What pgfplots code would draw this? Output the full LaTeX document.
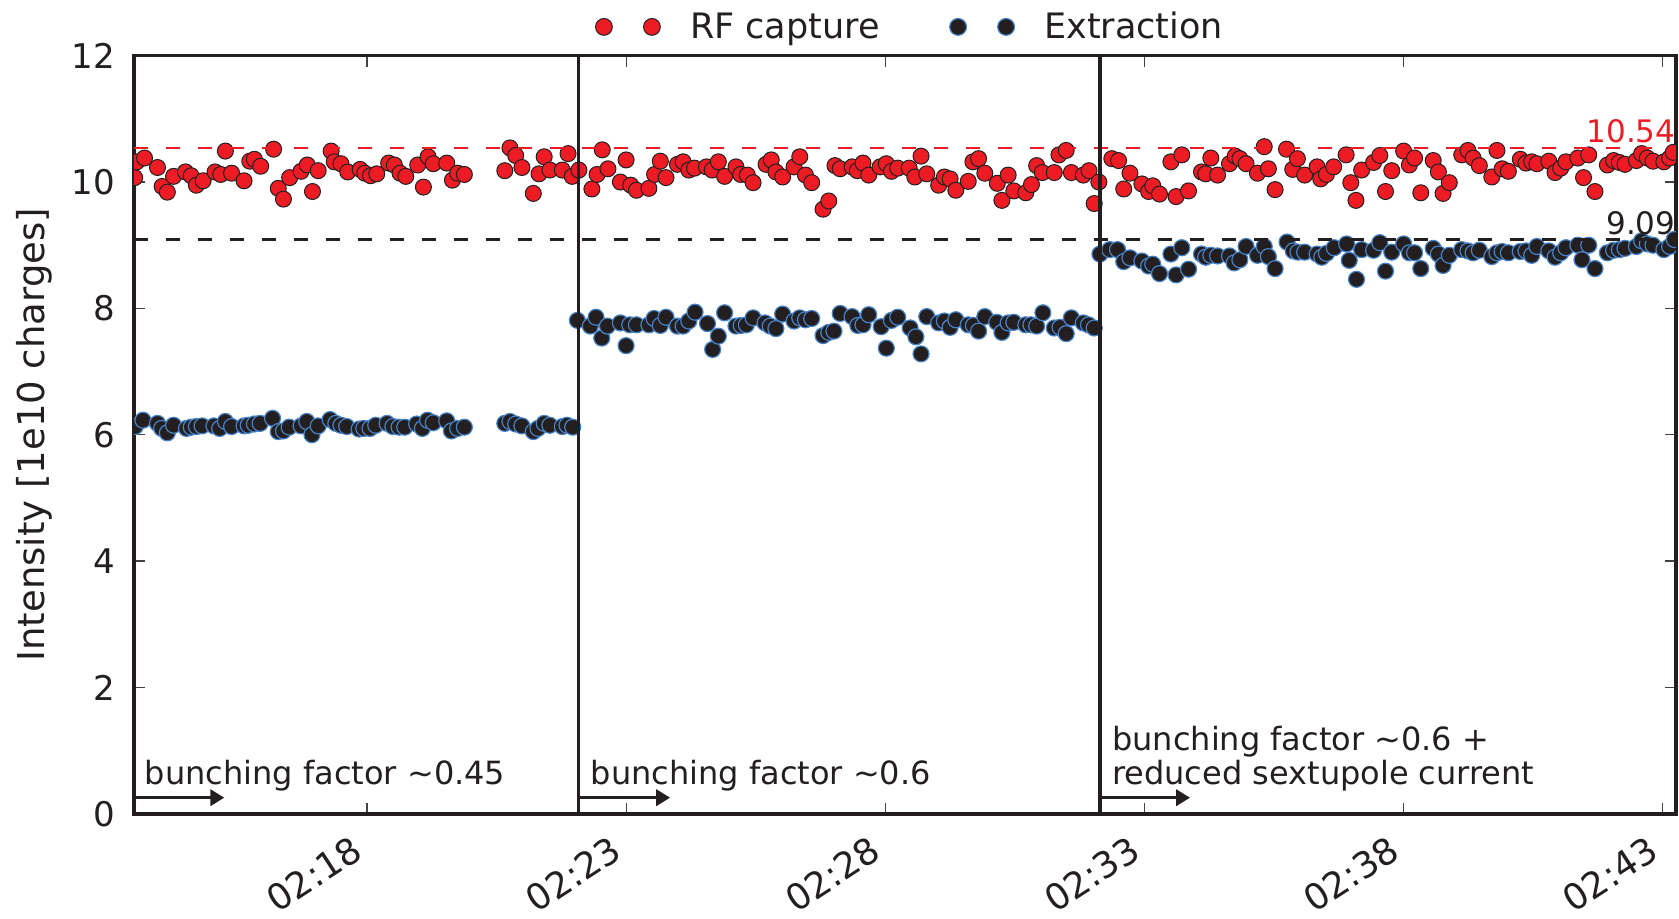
\documentclass[border=0pt]{standalone}
\usepackage{fontspec}
\setmainfont{DejaVu Sans}
\usepackage{pgfplots}
\pgfplotsset{compat=1.18}
\usetikzlibrary{arrows.meta,calc}
\definecolor{rfred}{RGB}{237,28,36}
\definecolor{dk}{RGB}{35,31,32}
\definecolor{edgeblue}{RGB}{70,130,200}
\begin{document}
\begin{tikzpicture}
\begin{axis}[
  name=ax,
  scale only axis, width=770.95pt, height=379.05pt,
  xmin=13.505, xmax=43.25, ymin=0, ymax=12,
  xtick={18,23,28,33,38,43},
  xticklabels={02:18,02:23,02:28,02:33,02:38,02:43},
  ytick={0,2,...,12},
  tick align=inside, xtick pos=both, ytick pos=both,
  major tick length=5.5pt,
  tick style={line width=0.6pt, color=dk!85},
  axis line style={line width=1.75pt, color=dk},
  /pgf/number format/assume math mode=true,
  ticklabel style={font=\fontsize{17}{20}\selectfont, color=dk},
  xticklabel style={font=\fontsize{18}{21}\selectfont, xshift=-7.3pt, yshift=-5.5pt, rotate=33, anchor=north east},
  yticklabel style={xshift=-6pt},
  ylabel={Intensity [1e10 charges]},
  ylabel style={font=\fontsize{18.5}{22}\selectfont, color=dk, at={(axis description cs:0,0.5)}, anchor=center, yshift=50pt},
  clip marker paths=true,
  legend columns=2,
  legend style={draw=none, fill=none, at={(0.5,1)}, anchor=center, yshift=14.4pt, xshift=3.2pt,
    font=\fontsize{17.5}{21}\selectfont, text=dk,
    /tikz/every even column/.append style={column sep=33pt},
    /tikz/every odd column/.append style={column sep=12.9pt}},
  legend image code/.code={\draw[#1, mark size=4.2pt] plot coordinates {(0pt,0pt) (24pt,0pt)};},
]
\addplot[only marks, mark=*, mark size=4pt, mark options={fill=rfred, draw=dk, line width=0.5pt}] table {
x y
13.52 10.07
13.56 10.32
13.71 10.38
13.96 10.23
14.05 9.93
14.15 9.84
14.27 10.09
14.50 10.16
14.61 10.10
14.71 9.95
14.84 10.02
15.07 10.16
15.18 10.12
15.27 10.49
15.39 10.14
15.63 10.02
15.74 10.33
15.83 10.36
15.95 10.25
16.20 10.52
16.29 9.90
16.39 9.73
16.51 10.07
16.73 10.17
16.85 10.27
16.95 9.85
17.06 10.18
17.31 10.49
17.37 10.32
17.50 10.29
17.63 10.16
17.87 10.20
17.96 10.14
18.07 10.10
18.19 10.13
18.42 10.30
18.53 10.27
18.64 10.14
18.75 10.09
18.98 10.27
19.09 9.92
19.18 10.40
19.28 10.29
19.54 10.30
19.65 10.03
19.75 10.14
19.88 10.12
20.66 10.18
20.76 10.54
20.87 10.42
20.99 10.23
21.21 9.82
21.32 10.13
21.42 10.40
21.53 10.19
21.77 10.19
21.88 10.45
21.96 10.09
22.09 10.19
22.34 9.89
22.44 10.12
22.54 10.51
22.65 10.21
22.89 10.00
23.00 10.35
23.09 9.95
23.20 9.87
23.44 9.90
23.55 10.12
23.66 10.33
23.77 10.07
23.99 10.28
24.10 10.32
24.21 10.19
24.32 10.22
24.55 10.24
24.66 10.19
24.78 10.32
24.90 10.09
25.12 10.24
25.21 10.12
25.34 10.11
25.45 9.99
25.70 10.28
25.80 10.35
25.89 10.16
26.02 10.08
26.24 10.24
26.35 10.40
26.46 10.11
26.58 9.99
26.80 9.57
26.91 9.70
27.03 10.26
27.13 10.21
27.36 10.24
27.46 10.18
27.57 10.30
27.68 10.11
27.90 10.24
28.02 10.29
28.12 10.17
28.24 10.22
28.46 10.22
28.57 10.08
28.69 10.41
28.80 10.13
29.03 9.95
29.14 10.08
29.25 10.05
29.36 9.87
29.60 10.01
29.69 10.32
29.80 10.37
29.92 10.14
30.16 9.98
30.25 9.71
30.37 10.11
30.48 9.86
30.71 9.83
30.82 9.96
30.92 10.26
31.03 10.15
31.26 10.15
31.35 10.43
31.49 10.50
31.59 10.15
31.82 10.11
31.93 10.18
32.03 9.66
32.12 10.00
32.37 10.37
32.50 10.34
32.60 9.89
32.72 10.14
32.95 9.97
33.08 9.85
33.16 9.94
33.29 9.81
33.51 10.32
33.61 9.77
33.72 10.43
33.85 9.86
34.10 10.16
34.18 10.13
34.28 10.38
34.41 10.11
34.64 10.29
34.75 10.41
34.84 10.37
34.96 10.29
35.18 10.14
35.31 10.56
35.39 10.21
35.52 9.88
35.74 10.52
35.86 10.20
35.95 10.37
36.09 10.11
36.33 10.24
36.40 10.05
36.51 10.12
36.65 10.24
36.89 10.43
36.98 9.99
37.08 9.71
37.19 10.19
37.42 10.31
37.54 10.42
37.65 9.85
37.77 10.18
38.00 10.49
38.11 10.27
38.21 10.38
38.33 9.83
38.57 10.34
38.67 10.16
38.76 9.82
38.88 9.99
39.12 10.43
39.24 10.50
39.34 10.38
39.46 10.26
39.70 10.08
39.80 10.50
39.90 10.21
40.02 10.17
40.25 10.36
40.36 10.30
40.47 10.32
40.57 10.29
40.80 10.33
40.92 10.15
41.03 10.22
41.13 10.32
41.36 10.38
41.47 10.07
41.57 10.43
41.69 9.85
41.93 10.27
42.05 10.34
42.16 10.31
42.27 10.28
42.49 10.34
42.59 10.45
42.70 10.38
42.81 10.33
43.02 10.32
43.13 10.38
43.20 10.47
};
\addlegendentry{RF capture}
\addplot[only marks, mark=*, mark size=4pt, mark options={fill=dk, draw=edgeblue, line width=0.6pt}] table {
x y
13.53 6.13
13.68 6.23
13.96 6.18
14.04 6.10
14.15 6.03
14.27 6.15
14.52 6.10
14.61 6.12
14.71 6.13
14.82 6.14
15.05 6.14
15.16 6.10
15.27 6.21
15.39 6.13
15.63 6.14
15.71 6.15
15.83 6.17
15.94 6.18
16.18 6.26
16.29 6.05
16.39 6.06
16.50 6.12
16.73 6.14
16.84 6.21
16.94 6.00
17.06 6.14
17.29 6.24
17.40 6.18
17.50 6.15
17.61 6.13
17.85 6.09
17.94 6.10
18.06 6.10
18.17 6.15
18.39 6.18
18.50 6.13
18.62 6.12
18.73 6.12
18.96 6.17
19.07 6.10
19.17 6.23
19.28 6.19
19.54 6.22
19.63 6.06
19.75 6.10
19.88 6.12
20.66 6.18
20.76 6.21
20.87 6.17
20.99 6.14
21.21 6.05
21.30 6.10
21.42 6.18
21.53 6.15
21.77 6.13
21.86 6.15
21.97 6.12
22.06 7.81
22.31 7.72
22.42 7.86
22.53 7.53
22.64 7.72
22.89 7.77
23.00 7.41
23.07 7.74
23.20 7.74
23.44 7.74
23.54 7.84
23.66 7.73
23.77 7.86
23.99 7.72
24.10 7.72
24.21 7.80
24.33 7.94
24.57 7.76
24.67 7.35
24.78 7.56
24.90 7.93
25.12 7.72
25.22 7.73
25.32 7.74
25.45 7.85
25.68 7.77
25.78 7.72
25.89 7.68
26.02 7.91
26.24 7.80
26.35 7.85
26.46 7.82
26.58 7.84
26.80 7.57
26.91 7.62
27.01 7.64
27.13 7.92
27.36 7.87
27.47 7.73
27.57 7.74
27.68 7.90
27.92 7.71
28.02 7.37
28.12 7.81
28.24 7.86
28.48 7.69
28.59 7.55
28.69 7.28
28.80 7.87
29.03 7.77
29.14 7.80
29.25 7.70
29.36 7.82
29.60 7.74
29.70 7.73
29.80 7.64
29.92 7.87
30.15 7.78
30.25 7.62
30.37 7.77
30.48 7.78
30.71 7.74
30.81 7.74
30.92 7.72
31.04 7.93
31.26 7.69
31.37 7.70
31.49 7.60
31.59 7.85
31.82 7.77
31.92 7.74
32.03 7.69
32.14 8.86
32.33 8.93
32.48 8.93
32.60 8.74
32.72 8.80
32.95 8.75
33.08 8.67
33.16 8.70
33.29 8.55
33.51 8.86
33.61 8.53
33.72 8.96
33.85 8.62
34.10 8.86
34.18 8.81
34.28 8.84
34.41 8.83
34.64 8.83
34.73 8.72
34.84 8.77
34.96 8.98
35.18 8.84
35.31 8.98
35.39 8.82
35.52 8.63
35.75 9.05
35.87 8.91
35.96 8.89
36.09 8.89
36.33 8.86
36.42 8.81
36.51 8.87
36.66 8.96
36.90 9.02
36.95 8.76
37.09 8.46
37.19 8.93
37.42 8.92
37.54 9.04
37.65 8.59
37.77 8.89
38.00 9.02
38.11 8.88
38.21 8.88
38.33 8.63
38.57 8.95
38.67 8.86
38.76 8.68
38.88 8.84
39.12 8.93
39.24 8.91
39.34 8.88
39.46 8.92
39.70 8.82
39.80 8.88
39.90 8.90
40.02 8.88
40.25 8.90
40.36 8.91
40.47 8.84
40.57 8.98
40.80 8.91
40.92 8.81
41.03 8.88
41.13 8.96
41.36 9.00
41.44 8.77
41.57 9.00
41.69 8.63
41.93 8.88
42.05 8.92
42.16 8.93
42.27 8.95
42.49 8.98
42.59 9.07
42.70 9.02
42.81 9.00
43.02 8.93
43.13 8.98
43.22 9.09
};
\addlegendentry{Extraction}
\draw[rfred, line width=1.3pt, dash pattern=on 7pt off 9pt] (axis cs:13.505,10.54) -- (axis cs:43.25,10.54);
\draw[dk, line width=1.3pt, dash pattern=on 7pt off 9pt] (axis cs:13.505,9.09) -- (axis cs:43.25,9.09);
\draw[dk, line width=1.75pt] (axis cs:22.08,0) -- (axis cs:22.08,12);
\draw[dk, line width=1.75pt] (axis cs:32.14,0) -- (axis cs:32.14,12);
\draw[dk, line width=1.75pt, -{Triangle[length=7pt,width=8pt]}] (axis cs:13.505,0.255) -- (axis cs:15.25,0.255);
\draw[dk, line width=1.75pt, -{Triangle[length=7pt,width=8pt]}] (axis cs:22.08,0.255) -- (axis cs:23.85,0.255);
\draw[dk, line width=1.75pt, -{Triangle[length=7pt,width=8pt]}] (axis cs:32.14,0.255) -- (axis cs:33.88,0.255);
\coordinate (t1) at (axis cs:13.71,0.456);
\coordinate (t2) at (axis cs:22.31,0.456);
\coordinate (t3a) at (axis cs:32.37,1.0);
\coordinate (t3b) at (axis cs:32.37,0.456);
\coordinate (r1) at (axis cs:43.25,10.54);
\coordinate (r2) at (axis cs:43.25,9.09);
\coordinate (bbSW) at (rel axis cs:0,0);
\coordinate (bbNE) at (rel axis cs:1,1);
\end{axis}
\begin{scope}[every node/.style={inner sep=0pt, font=\fontsize{16}{19}\selectfont, text=dk}]
\node[anchor=base west] at (t1) {bunching factor \textasciitilde0.45};
\node[anchor=base west] at (t2) {bunching factor \textasciitilde0.6};
\node[anchor=base west] at (t3a) {bunching factor \textasciitilde0.6 +};
\node[anchor=base west] at (t3b) {reduced sextupole current};
\node[anchor=base east, text=rfred, font=\fontsize{15.5}{18}\selectfont] at ($(r1)+(0,2.9pt)$) {10.54};
\node[anchor=base east, font=\fontsize{15.5}{18}\selectfont] at ($(r2)+(0,2.7pt)$) {9.09};
\end{scope}
\pgfresetboundingbox
\path[use as bounding box] ($(bbSW)+(-66.95pt,-52.6pt)$) rectangle ($(bbNE)+(1.6pt,27.85pt)$);
\end{tikzpicture}
\end{document}
